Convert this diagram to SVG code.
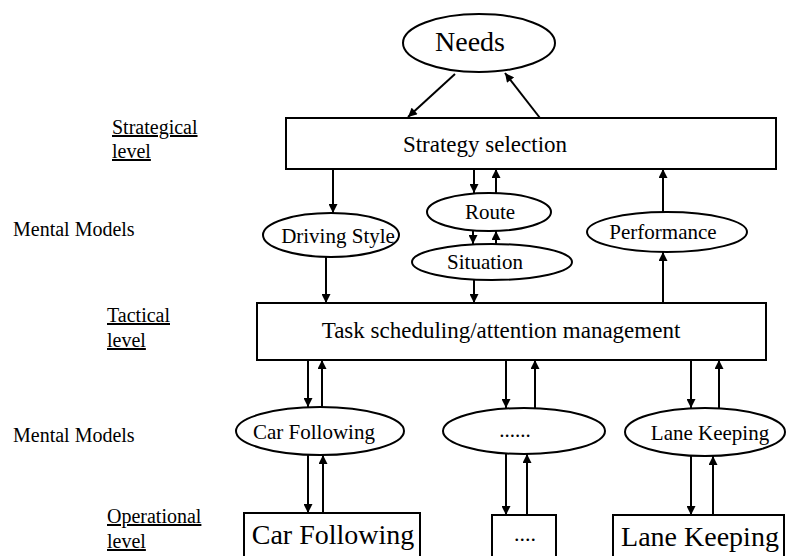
<svg xmlns="http://www.w3.org/2000/svg" width="787" height="556" viewBox="0 0 787 556" font-family="'Liberation Serif', 'Times New Roman', serif">
<style>
text{font-family:'Liberation Serif','Times New Roman',serif;fill:#000}
.lbl{font-size:20px}
.u{text-decoration:underline}
.box{fill:#fff;stroke:#000;stroke-width:2}
.ell{fill:#fff;stroke:#000;stroke-width:2}
.c line{stroke:#000;stroke-width:2;marker-end:url(#ah)}
.t21{font-size:21px;text-anchor:middle}
.t23{font-size:23px;text-anchor:middle}
.t28{font-size:28px;text-anchor:middle}
</style>
<defs>
<marker id="ah" viewBox="0 0 10 10" refX="10" refY="5" markerWidth="5" markerHeight="4.5" orient="auto" markerUnits="strokeWidth">
<path d="M0,0 L10,5 L0,10 z" fill="#000"/>
</marker>
</defs>
<rect width="787" height="556" fill="#fff"/>
<g id="labels">
<text class="lbl u" x="112" y="134">Strategical</text>
<text class="lbl u" x="112" y="158">level</text>
<text class="lbl" x="13" y="236">Mental Models</text>
<text class="lbl u" x="107" y="322">Tactical</text>
<text class="lbl u" x="107" y="347">level</text>
<text class="lbl" x="13" y="442">Mental Models</text>
<text class="lbl u" x="107" y="523">Operational</text>
<text class="lbl u" x="107" y="548">level</text>
</g>
<g id="needs"><ellipse class="ell" cx="479" cy="43" rx="76" ry="29"/><text class="t28" x="470" y="51">Needs</text></g>
<g id="strategy"><rect class="box" x="286" y="118" width="490" height="51"/><text class="t23" x="485" y="152">Strategy selection</text></g>
<g id="driving"><ellipse class="ell" cx="331" cy="235" rx="68" ry="22"/><text class="t21" x="338" y="243">Driving Style</text></g>
<g id="route"><ellipse class="ell" cx="489" cy="212" rx="62" ry="19"/><text class="t21" x="490" y="219">Route</text></g>
<g id="situation"><ellipse class="ell" cx="492" cy="262" rx="80" ry="18"/><text class="t21" x="485" y="269">Situation</text></g>
<g id="performance"><ellipse class="ell" cx="667" cy="232" rx="80" ry="20"/><text class="t21" x="663" y="239">Performance</text></g>
<g id="tactical"><rect class="box" x="257" y="303" width="509" height="57"/><text class="t23" x="501" y="338">Task scheduling/attention management</text></g>
<g id="mm-car"><ellipse class="ell" cx="320" cy="431" rx="84" ry="24"/><text class="t21" x="314" y="439">Car Following</text></g>
<g id="mm-dots"><ellipse class="ell" cx="524" cy="431" rx="81" ry="23"/><text class="t21" x="515" y="437">......</text></g>
<g id="mm-lane"><ellipse class="ell" cx="705" cy="432" rx="80" ry="24"/><text class="t21" x="710" y="440">Lane Keeping</text></g>
<g id="op-car"><rect class="box" x="244" y="513" width="176" height="60"/><text x="333" y="544" style="font-size:28px;text-anchor:middle">Car Following</text></g>
<g id="op-dots"><rect class="box" x="492" y="515" width="64" height="60"/><text x="525" y="541" style="font-size:22px;text-anchor:middle">....</text></g>
<g id="op-lane"><rect class="box" x="613" y="515" width="171" height="60"/><text x="700" y="546" style="font-size:28px;text-anchor:middle">Lane Keeping</text></g>
<g id="connectors" class="c">
<line x1="455" y1="74" x2="408" y2="117"/>
<line x1="540" y1="118" x2="505" y2="73"/>
<line x1="333" y1="169" x2="333" y2="213"/>
<line x1="474" y1="169" x2="474" y2="193"/>
<line x1="496" y1="193" x2="496" y2="169"/>
<line x1="473" y1="231" x2="473" y2="244"/>
<line x1="496" y1="244" x2="496" y2="231"/>
<line x1="474" y1="280" x2="474" y2="303"/>
<line x1="326" y1="257" x2="326" y2="303"/>
<line x1="663" y1="303" x2="663" y2="252"/>
<line x1="663" y1="212" x2="663" y2="169"/>
<line x1="308" y1="360" x2="308" y2="407"/>
<line x1="322" y1="407" x2="322" y2="360"/>
<line x1="506" y1="360" x2="506" y2="408"/>
<line x1="535" y1="408" x2="535" y2="360"/>
<line x1="691" y1="360" x2="691" y2="408"/>
<line x1="719" y1="408" x2="719" y2="360"/>
<line x1="308" y1="455" x2="308" y2="513"/>
<line x1="323" y1="513" x2="323" y2="455"/>
<line x1="506" y1="454" x2="506" y2="515"/>
<line x1="527" y1="515" x2="527" y2="454"/>
<line x1="691" y1="456" x2="691" y2="515"/>
<line x1="713" y1="515" x2="713" y2="456"/>
</g>
</svg>
